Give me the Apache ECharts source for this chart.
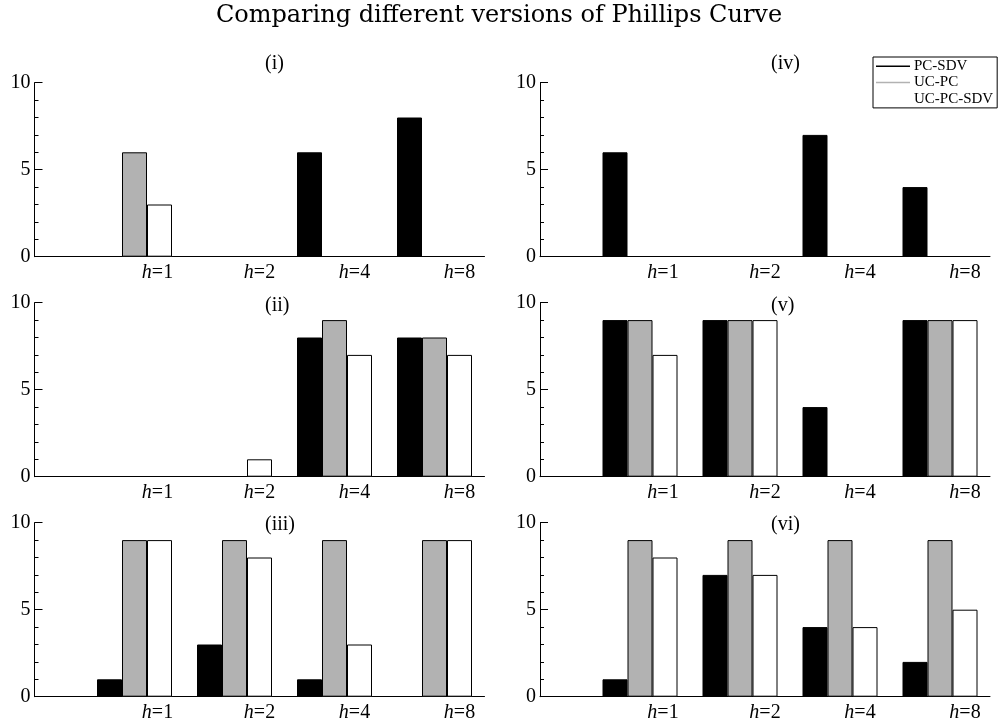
<!DOCTYPE html>
<html>
<head>
<meta charset="utf-8">
<script src="https://cdn.jsdelivr.net/npm/echarts@6/dist/echarts.min.js"></script>
<style>
  html, body { margin: 0; padding: 0; background: #fff; }
  #chart { width: 998px; height: 726px; }
</style>
</head>
<body>
<div id="chart"></div>
<script>
// horizons (groups) and where they sit on the x scale
const categories = ['h=1', 'h=2', 'h=4', 'h=8']
const groupX = [1, 2, 3, 4]
const labelX = [1.23, 2.25, 3.2, 4.25] // tick labels sit right of group centre

// panels (i)-(iii) left column, (iv)-(vi) right column
const panelNames = ['(i)', '(ii)', '(iii)', '(iv)', '(v)', '(vi)']
const pcSdv = [[0, 0, 6, 8], [0, 0, 8, 8], [1, 3, 1, 0], [6, 0, 7, 4], [9, 9, 4, 9], [1, 7, 4, 2]]
const ucPc = [[6, 0, 0, 0], [0, 0, 9, 8], [9, 9, 9, 9], [0, 0, 0, 0], [9, 9, 0, 9], [9, 9, 9, 9]]
const ucPcSdv = [[3, 0, 0, 0], [0, 1, 7, 7], [9, 8, 3, 9], [0, 0, 0, 0], [7, 9, 0, 9], [8, 7, 4, 5]]
const seriesNames = ['PC-SDV', 'UC-PC', 'UC-PC-SDV']

const FONT = 'Liberation Serif'
const colLeft = [34.5, 540]
const rowTop = [82.7, 302.7, 522.7]
const titleLeft = [260, 766]
const titleTop = [49, 291, 510]

const chart = echarts.init(document.getElementById('chart'))

const grids = []
const xAxes = []
const yAxes = []
const series = []
const titles = [{
  text: 'Comparing different versions of Phillips Curve',
  left: 'center',
  top: -1,
  textStyle: { fontFamily: 'DejaVu Serif', fontSize: 24, fontWeight: 'normal', color: '#000' },
}]

panelNames.forEach((name, p) => {
  const col = Math.floor(p / 3)
  const row = p % 3
  grids.push({
    left: colLeft[col],
    top: rowTop[row],
    width: 450,
    height: 174,
    outerBoundsMode: 'none',
  })
  titles.push({
    text: name,
    left: titleLeft[col],
    top: titleTop[row],
    textStyle: { fontFamily: FONT, fontSize: 20, fontWeight: 'normal', color: '#000' },
  })
  xAxes.push({
    type: 'value',
    gridIndex: p,
    min: 0,
    max: 4.5,
    interval: 0.01,
    splitLine: { show: false },
    axisTick: { show: false },
    axisLine: { show: true, onZero: false, lineStyle: { color: '#000', width: 1 } },
    axisLabel: {
      margin: 6,
      fontFamily: FONT,
      fontSize: 20,
      color: '#000',
      showMinLabel: false,
      showMaxLabel: false,
      formatter: function (v) {
        const k = Math.round(v * 100)
        const i = labelX.findIndex((x) => Math.round(x * 100) === k)
        if (i < 0) return ''
        return '{it|h}' + categories[i].slice(1)
      },
      rich: {
        it: { fontFamily: FONT, fontSize: 20, fontStyle: 'italic', color: '#000' },
      },
    },
  })
  yAxes.push({
    type: 'value',
    gridIndex: p,
    min: 0,
    max: 10,
    interval: 5,
    splitLine: { show: false },
    axisLine: { show: true, lineStyle: { color: '#000', width: 1 } },
    axisTick: { show: true, inside: true, length: 8, lineStyle: { color: '#000' } },
    minorTick: { show: true, splitNumber: 5, length: 4, lineStyle: { color: '#000' } },
    axisLabel: { margin: 4, fontFamily: FONT, fontSize: 20, color: '#000' },
  })
  const sets = [pcSdv[p], ucPc[p], ucPcSdv[p]]
  const fills = ['#000000', '#b2b2b2', '#ffffff']
  sets.forEach((vals, s) => {
    series.push({
      name: seriesNames[s],
      type: 'bar',
      xAxisIndex: p,
      yAxisIndex: p,
      barWidth: 25,
      barGap: '0%',
      animation: false,
      itemStyle: { color: fills[s], borderColor: '#000', borderWidth: 1 },
      // empty bars are not drawn in the original
      data: vals.map((v, i) => [groupX[i], v === 0 ? '-' : v]),
    })
  })
})

chart.setOption({
  backgroundColor: '#fff',
  animation: false,
  title: titles,
  legend: {
    data: seriesNames,
    orient: 'vertical',
    left: 873,
    top: 57,
    padding: [1, 4, 1, 3],
    itemGap: 0,
    itemWidth: 34,
    itemHeight: 1.5,
    icon: 'rect',
    backgroundColor: '#fff',
    borderColor: '#000',
    borderWidth: 1,
    borderRadius: 0,
    itemStyle: { borderWidth: 0 },
    selectedMode: false,
    textStyle: { fontFamily: FONT, fontSize: 15, color: '#000', lineHeight: 16.3, padding: [0, 0, 0, -1] },
  },
  grid: grids,
  xAxis: xAxes,
  yAxis: yAxes,
  series: series,
})
</script>
</body>
</html>
